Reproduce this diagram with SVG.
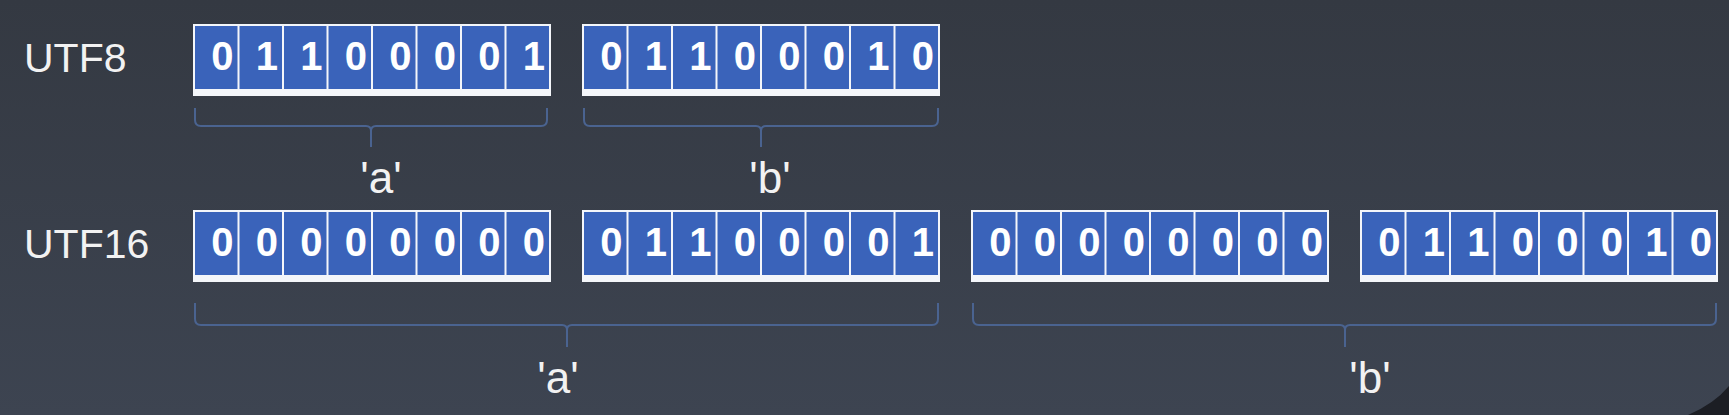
<svg xmlns="http://www.w3.org/2000/svg" width="1729" height="415" viewBox="0 0 1729 415">
<defs>
<linearGradient id="bg" x1="0" y1="0" x2="0" y2="1">
<stop offset="0" stop-color="#343942"/>
<stop offset="1" stop-color="#3d4451"/>
</linearGradient>
<style>
.frame{fill:#f4f6fa}
.cell{fill:#3a63ba}
.bit{font-family:"Liberation Sans",Arial,sans-serif;font-weight:bold;font-size:40px;fill:#ffffff;text-anchor:middle}
.lbl{font-family:"Liberation Sans",Arial,sans-serif;font-size:41px;fill:#f2f2f2}
.chr{font-family:"Liberation Sans",Arial,sans-serif;font-size:44px;fill:#f2f2f2;text-anchor:middle}
.brace{fill:none;stroke:#4a6390;stroke-width:2}
</style>
</defs>
<rect width="1729" height="415" fill="url(#bg)"/>
<path d="M1729 386 Q1714 404 1688 415 L1729 415 Z" fill="#1c1e24"/>

<g id="label-utf8"><text class="lbl" x="24" y="72">UTF8</text></g>
<g id="label-utf16"><text class="lbl" x="24" y="258">UTF16</text></g>

<g id="utf8-a" transform="translate(193,24)">
<rect class="frame" width="358" height="72"/>
<rect class="cell" x="2" y="2" width="42.5" height="63"/><rect class="cell" x="46.5" y="2" width="42.5" height="63"/><rect class="cell" x="91" y="2" width="42.5" height="63"/><rect class="cell" x="135.5" y="2" width="42.5" height="63"/><rect class="cell" x="180" y="2" width="42.5" height="63"/><rect class="cell" x="224.5" y="2" width="42.5" height="63"/><rect class="cell" x="269" y="2" width="42.5" height="63"/><rect class="cell" x="313.5" y="2" width="42.5" height="63"/>
<text class="bit" x="29.25" y="46">0</text><text class="bit" x="73.75" y="46">1</text><text class="bit" x="118.25" y="46">1</text><text class="bit" x="162.75" y="46">0</text><text class="bit" x="207.25" y="46">0</text><text class="bit" x="251.75" y="46">0</text><text class="bit" x="296.25" y="46">0</text><text class="bit" x="340.75" y="46">1</text>
</g>

<g id="utf8-b" transform="translate(582,24)">
<rect class="frame" width="358" height="72"/>
<rect class="cell" x="2" y="2" width="42.5" height="63"/><rect class="cell" x="46.5" y="2" width="42.5" height="63"/><rect class="cell" x="91" y="2" width="42.5" height="63"/><rect class="cell" x="135.5" y="2" width="42.5" height="63"/><rect class="cell" x="180" y="2" width="42.5" height="63"/><rect class="cell" x="224.5" y="2" width="42.5" height="63"/><rect class="cell" x="269" y="2" width="42.5" height="63"/><rect class="cell" x="313.5" y="2" width="42.5" height="63"/>
<text class="bit" x="29.25" y="46">0</text><text class="bit" x="73.75" y="46">1</text><text class="bit" x="118.25" y="46">1</text><text class="bit" x="162.75" y="46">0</text><text class="bit" x="207.25" y="46">0</text><text class="bit" x="251.75" y="46">0</text><text class="bit" x="296.25" y="46">1</text><text class="bit" x="340.75" y="46">0</text>
</g>

<g id="utf16-a-hi" transform="translate(193,210)">
<rect class="frame" width="358" height="72"/>
<rect class="cell" x="2" y="2" width="42.5" height="63"/><rect class="cell" x="46.5" y="2" width="42.5" height="63"/><rect class="cell" x="91" y="2" width="42.5" height="63"/><rect class="cell" x="135.5" y="2" width="42.5" height="63"/><rect class="cell" x="180" y="2" width="42.5" height="63"/><rect class="cell" x="224.5" y="2" width="42.5" height="63"/><rect class="cell" x="269" y="2" width="42.5" height="63"/><rect class="cell" x="313.5" y="2" width="42.5" height="63"/>
<text class="bit" x="29.25" y="46">0</text><text class="bit" x="73.75" y="46">0</text><text class="bit" x="118.25" y="46">0</text><text class="bit" x="162.75" y="46">0</text><text class="bit" x="207.25" y="46">0</text><text class="bit" x="251.75" y="46">0</text><text class="bit" x="296.25" y="46">0</text><text class="bit" x="340.75" y="46">0</text>
</g>

<g id="utf16-a-lo" transform="translate(582,210)">
<rect class="frame" width="358" height="72"/>
<rect class="cell" x="2" y="2" width="42.5" height="63"/><rect class="cell" x="46.5" y="2" width="42.5" height="63"/><rect class="cell" x="91" y="2" width="42.5" height="63"/><rect class="cell" x="135.5" y="2" width="42.5" height="63"/><rect class="cell" x="180" y="2" width="42.5" height="63"/><rect class="cell" x="224.5" y="2" width="42.5" height="63"/><rect class="cell" x="269" y="2" width="42.5" height="63"/><rect class="cell" x="313.5" y="2" width="42.5" height="63"/>
<text class="bit" x="29.25" y="46">0</text><text class="bit" x="73.75" y="46">1</text><text class="bit" x="118.25" y="46">1</text><text class="bit" x="162.75" y="46">0</text><text class="bit" x="207.25" y="46">0</text><text class="bit" x="251.75" y="46">0</text><text class="bit" x="296.25" y="46">0</text><text class="bit" x="340.75" y="46">1</text>
</g>

<g id="utf16-b-hi" transform="translate(971,210)">
<rect class="frame" width="358" height="72"/>
<rect class="cell" x="2" y="2" width="42.5" height="63"/><rect class="cell" x="46.5" y="2" width="42.5" height="63"/><rect class="cell" x="91" y="2" width="42.5" height="63"/><rect class="cell" x="135.5" y="2" width="42.5" height="63"/><rect class="cell" x="180" y="2" width="42.5" height="63"/><rect class="cell" x="224.5" y="2" width="42.5" height="63"/><rect class="cell" x="269" y="2" width="42.5" height="63"/><rect class="cell" x="313.5" y="2" width="42.5" height="63"/>
<text class="bit" x="29.25" y="46">0</text><text class="bit" x="73.75" y="46">0</text><text class="bit" x="118.25" y="46">0</text><text class="bit" x="162.75" y="46">0</text><text class="bit" x="207.25" y="46">0</text><text class="bit" x="251.75" y="46">0</text><text class="bit" x="296.25" y="46">0</text><text class="bit" x="340.75" y="46">0</text>
</g>

<g id="utf16-b-lo" transform="translate(1360,210)">
<rect class="frame" width="358" height="72"/>
<rect class="cell" x="2" y="2" width="42.5" height="63"/><rect class="cell" x="46.5" y="2" width="42.5" height="63"/><rect class="cell" x="91" y="2" width="42.5" height="63"/><rect class="cell" x="135.5" y="2" width="42.5" height="63"/><rect class="cell" x="180" y="2" width="42.5" height="63"/><rect class="cell" x="224.5" y="2" width="42.5" height="63"/><rect class="cell" x="269" y="2" width="42.5" height="63"/><rect class="cell" x="313.5" y="2" width="42.5" height="63"/>
<text class="bit" x="29.25" y="46">0</text><text class="bit" x="73.75" y="46">1</text><text class="bit" x="118.25" y="46">1</text><text class="bit" x="162.75" y="46">0</text><text class="bit" x="207.25" y="46">0</text><text class="bit" x="251.75" y="46">0</text><text class="bit" x="296.25" y="46">1</text><text class="bit" x="340.75" y="46">0</text>
</g>

<g id="connectors">
<path class="brace" d="M195 108 V120 Q195 126 201 126 H366 Q371 126 371 131 V147 M371 131 Q371 126 376 126 H541 Q547 126 547 120 V108"/>
<path class="brace" d="M584 108 V120 Q584 126 590 126 H756 Q761 126 761 131 V147 M761 131 Q761 126 766 126 H932 Q938 126 938 120 V108"/>
<path class="brace" d="M195 303 V319 Q195 325 201 325 H562 Q567 325 567 330 V347 M567 330 Q567 325 572 325 H932 Q938 325 938 319 V303"/>
<path class="brace" d="M973 303 V319 Q973 325 979 325 H1340 Q1345 325 1345 330 V347 M1345 330 Q1345 325 1350 325 H1710 Q1716 325 1716 319 V303"/>
</g>

<g id="char-labels">
<text class="chr" x="381" y="193">'a'</text>
<text class="chr" x="770" y="193">'b'</text>
<text class="chr" x="558" y="393">'a'</text>
<text class="chr" x="1370" y="393">'b'</text>
</g>
</svg>
